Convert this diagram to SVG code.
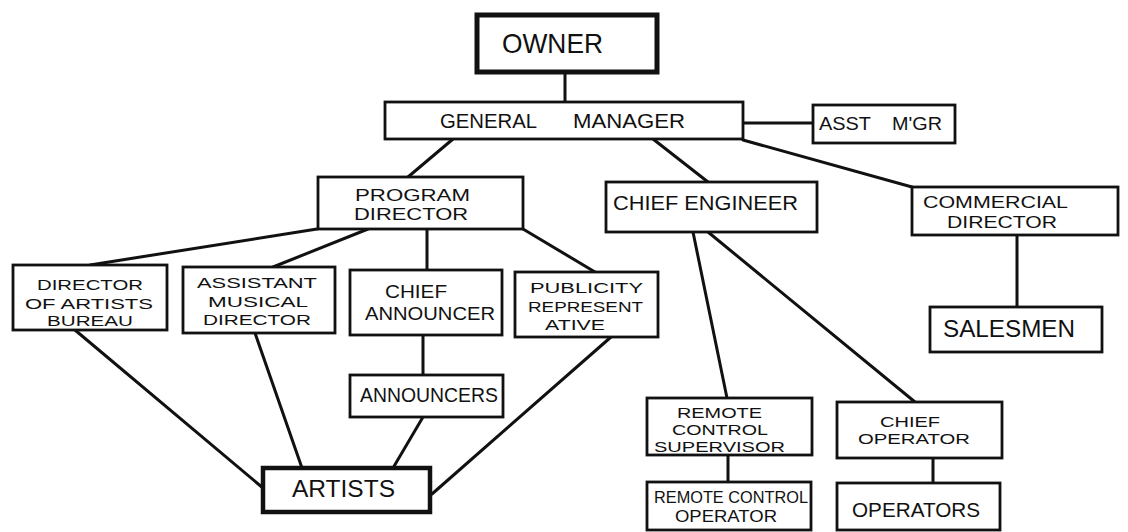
<svg xmlns="http://www.w3.org/2000/svg" width="1128" height="532" viewBox="0 0 1128 532">
<style>
.box{fill:#fff;stroke:#111;stroke-width:2.8}
.thick{fill:#fff;stroke:#111;stroke-width:5}
.con line{stroke:#111;stroke-width:3;stroke-linecap:round}
text{font-family:"Liberation Sans",Arial,sans-serif;fill:#111}
</style>
<rect width="1128" height="532" fill="#fff"/>
<g id="connectors" class="con">
<line x1="565" y1="72" x2="565" y2="102"/>
<line x1="743" y1="123" x2="813" y2="123"/>
<line x1="453" y1="139" x2="408" y2="177"/>
<line x1="653" y1="139" x2="708" y2="182"/>
<line x1="743" y1="140" x2="912" y2="187"/>
<line x1="1017" y1="235" x2="1017" y2="307"/>
<line x1="317" y1="229" x2="90" y2="265"/>
<line x1="368" y1="229" x2="273" y2="267"/>
<line x1="427" y1="229" x2="427" y2="270"/>
<line x1="523" y1="229" x2="595" y2="272"/>
<line x1="423" y1="335" x2="423" y2="375"/>
<line x1="75" y1="330" x2="263" y2="488"/>
<line x1="255" y1="333" x2="302" y2="468"/>
<line x1="423" y1="417" x2="393" y2="468"/>
<line x1="611" y1="337" x2="432" y2="494"/>
<line x1="693" y1="232" x2="727" y2="398"/>
<line x1="708" y1="232" x2="915" y2="402"/>
<line x1="728" y1="455" x2="728" y2="482"/>
<line x1="933" y1="458" x2="933" y2="483"/>
</g>
<g id="owner"><rect class="thick" x="477" y="15" width="180" height="57"/><text x="502" y="53" font-size="28" textLength="101" lengthAdjust="spacingAndGlyphs">OWNER</text></g>
<g id="general-manager"><rect class="box" x="385" y="102" width="358" height="37"/><text y="128" font-size="21"><tspan x="440" textLength="97" lengthAdjust="spacingAndGlyphs">GENERAL</tspan><tspan x="573" textLength="112" lengthAdjust="spacingAndGlyphs">MANAGER</tspan></text></g>
<g id="asst-mgr"><rect class="box" x="813" y="105" width="142" height="38"/><text y="130" font-size="19"><tspan x="819" textLength="52" lengthAdjust="spacingAndGlyphs">ASST</tspan><tspan x="892" textLength="50" lengthAdjust="spacingAndGlyphs">M'GR</tspan></text></g>
<g id="commercial-director"><rect class="box" x="912" y="187" width="206" height="48"/><text font-size="17"><tspan x="923" y="208" textLength="145" lengthAdjust="spacingAndGlyphs">COMMERCIAL</tspan><tspan x="947" y="228" textLength="110" lengthAdjust="spacingAndGlyphs">DIRECTOR</tspan></text></g>
<g id="salesmen"><rect class="box" x="930" y="307" width="172" height="45"/><text x="943" y="337" font-size="24" textLength="132" lengthAdjust="spacingAndGlyphs">SALESMEN</text></g>
<g id="program-director"><rect class="box" x="318" y="177" width="205" height="52"/><text font-size="16.5"><tspan x="355" y="201" textLength="115" lengthAdjust="spacingAndGlyphs">PROGRAM</tspan><tspan x="354" y="220" textLength="114" lengthAdjust="spacingAndGlyphs">DIRECTOR</tspan></text></g>
<g id="chief-engineer"><rect class="box" x="606" y="182" width="211" height="50"/><text x="613" y="210" font-size="21" textLength="185" lengthAdjust="spacingAndGlyphs">CHIEF ENGINEER</text></g>
<g id="director-of-artists-bureau"><rect class="box" x="13" y="265" width="154" height="65"/><text font-size="15.5"><tspan x="37" y="290" textLength="106" lengthAdjust="spacingAndGlyphs">DIRECTOR</tspan><tspan x="25" y="309" textLength="128" lengthAdjust="spacingAndGlyphs">OF ARTISTS</tspan><tspan x="47" y="326" textLength="86" lengthAdjust="spacingAndGlyphs">BUREAU</tspan></text></g>
<g id="assistant-musical-director"><rect class="box" x="183" y="267" width="152" height="66"/><text font-size="15.5"><tspan x="197" y="288" textLength="120" lengthAdjust="spacingAndGlyphs">ASSISTANT</tspan><tspan x="208" y="307" textLength="100" lengthAdjust="spacingAndGlyphs">MUSICAL</tspan><tspan x="203" y="325" textLength="108" lengthAdjust="spacingAndGlyphs">DIRECTOR</tspan></text></g>
<g id="chief-announcer"><rect class="box" x="350" y="270" width="152" height="65"/><text font-size="19"><tspan x="385" y="298" textLength="62" lengthAdjust="spacingAndGlyphs">CHIEF</tspan><tspan x="365" y="320" textLength="130" lengthAdjust="spacingAndGlyphs">ANNOUNCER</tspan></text></g>
<g id="publicity-representative"><rect class="box" x="515" y="272" width="143" height="65"/><text font-size="15.5"><tspan x="530" y="293" textLength="113" lengthAdjust="spacingAndGlyphs">PUBLICITY</tspan><tspan x="528" y="312" textLength="115" lengthAdjust="spacingAndGlyphs">REPRESENT</tspan><tspan x="545" y="330" textLength="60" lengthAdjust="spacingAndGlyphs">ATIVE</tspan></text></g>
<g id="announcers"><rect class="box" x="350" y="375" width="153" height="42"/><text x="360" y="402" font-size="20" textLength="138" lengthAdjust="spacingAndGlyphs">ANNOUNCERS</text></g>
<g id="artists"><rect class="thick" x="263" y="468" width="167" height="44" style="stroke-width:4.5"/><text x="292" y="497" font-size="24" textLength="103" lengthAdjust="spacingAndGlyphs">ARTISTS</text></g>
<g id="remote-control-supervisor"><rect class="box" x="647" y="398" width="165" height="57"/><text font-size="14.5"><tspan x="677" y="418" textLength="85" lengthAdjust="spacingAndGlyphs">REMOTE</tspan><tspan x="672" y="435" textLength="96" lengthAdjust="spacingAndGlyphs">CONTROL</tspan><tspan x="654" y="452" textLength="131" lengthAdjust="spacingAndGlyphs">SUPERVISOR</tspan></text></g>
<g id="chief-operator"><rect class="box" x="837" y="402" width="165" height="56"/><text font-size="14.5"><tspan x="880" y="427" textLength="60" lengthAdjust="spacingAndGlyphs">CHIEF</tspan><tspan x="858" y="444" textLength="112" lengthAdjust="spacingAndGlyphs">OPERATOR</tspan></text></g>
<g id="remote-control-operator"><rect class="box" x="647" y="482" width="164" height="48"/><text font-size="16"><tspan x="654" y="503" textLength="154" lengthAdjust="spacingAndGlyphs">REMOTE CONTROL</tspan><tspan x="675" y="522" textLength="102" lengthAdjust="spacingAndGlyphs">OPERATOR</tspan></text></g>
<g id="operators"><rect class="box" x="837" y="483" width="163" height="47"/><text x="852" y="517" font-size="21" textLength="128" lengthAdjust="spacingAndGlyphs">OPERATORS</text></g>
</svg>
